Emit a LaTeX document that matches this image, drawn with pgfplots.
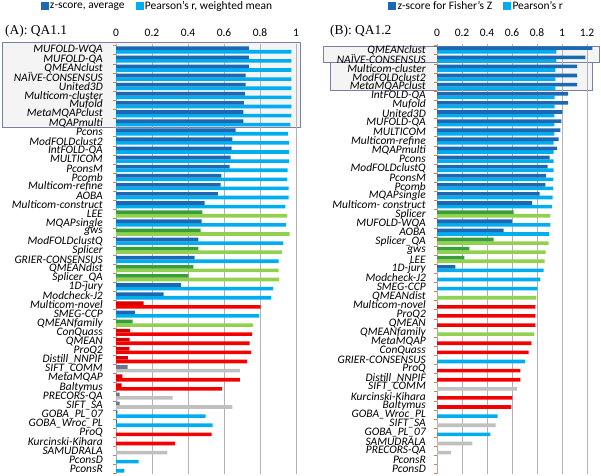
\documentclass[border=0pt]{standalone}
\usepackage{fontspec}
\setmainfont{Carlito}
\newfontfamily\seriffont{Liberation Serif}
\usepackage{pgfplots}
\usepackage{pgfplotstable}
\pgfplotsset{compat=1.18}
\definecolor{dkblue}{RGB}{28,104,178}
\definecolor{ltblue}{RGB}{0,174,239}
\definecolor{dkgreen}{RGB}{56,158,56}
\definecolor{ltgreen}{RGB}{146,208,80}
\definecolor{dkred}{RGB}{215,0,0}
\definecolor{ltred}{RGB}{245,0,0}
\definecolor{dkgray}{RGB}{110,118,140}
\definecolor{ltgray}{RGB}{192,192,192}
\definecolor{tickcol}{RGB}{200,130,90}
\definecolor{boxedge}{RGB}{120,130,160}

\pgfplotstableread{
i z r g
0 0.738 0.974 1
1 0.738 0.974 1
2 0.738 0.974 1
3 0.720 0.974 1
4 0.720 0.974 1
5 0.716 0.974 1
6 0.710 0.974 1
7 0.707 0.974 1
8 0.707 0.969 1
9 0.664 0.956 1
10 0.646 0.961 1
11 0.642 0.961 1
12 0.637 0.961 1
13 0.631 0.954 1
14 0.585 0.950 1
15 0.581 0.959 1
16 0.566 0.959 1
17 0.493 0.941 1
18 0.480 0.950 2
19 0.476 0.945 1
20 0.470 0.965 2
21 0.458 0.928 1
22 0.458 0.923 2
23 0.437 0.904 1
24 0.430 0.904 2
25 0.402 0.906 2
26 0.360 0.873 1
27 0.264 0.862 1
28 0.153 0.803 3
29 0.105 0.795 1
30 0.092 0.760 2
31 0.079 0.756 3
32 0.076 0.742 3
33 0.074 0.749 3
34 0.066 0.729 3
35 0.065 0.688 4
36 0.035 0.688 3
37 0.031 0.590 3
38 0.020 0.314 4
39 0.020 0.646 4
40 0.007 0.498 1
41 0.005 0.537 1
42 0.000 0.531 3
43 0.000 0.327 3
44 0.000 0.286 4
45 0.000 0.125 1
46 0.000 0.046 1
}\dataA

\pgfplotstableread{
i z r g
0 1.243 0.955 1
1 1.187 0.955 1
2 1.120 0.947 1
3 1.120 0.947 1
4 1.120 0.947 1
5 1.048 0.941 1
6 1.048 0.941 1
7 1.003 0.939 1
8 0.995 0.939 1
9 0.987 0.939 1
10 0.973 0.933 1
11 0.960 0.933 1
12 0.901 0.933 1
13 0.885 0.933 1
14 0.872 0.928 1
15 0.867 0.928 1
16 0.821 0.925 1
17 0.760 0.920 1
18 0.613 0.907 2
19 0.600 0.907 1
20 0.533 0.896 1
21 0.453 0.893 2
22 0.259 0.869 2
23 0.219 0.861 2
24 0.147 0.853 1
25 0.000 0.827 1
26 0.000 0.803 1
27 0.000 0.795 2
28 0.000 0.787 3
29 0.000 0.787 3
30 0.000 0.787 3
31 0.000 0.779 2
32 0.000 0.755 3
33 0.000 0.733 3
34 0.000 0.704 1
35 0.000 0.667 3
36 0.000 0.667 3
37 0.000 0.640 4
38 0.000 0.603 3
39 0.000 0.592 3
40 0.000 0.485 1
41 0.000 0.469 4
42 0.000 0.427 1
43 0.000 0.283 4
44 0.000 0.112 4
45 0.000 0.000 1
46 0.000 0.000 1
}\dataB

\pgfplotsset{
  qa/.style={
    xbar, scale only axis, height=430bp,
    y dir=reverse, ymin=-0.66, ymax=46.55, xmin=0,
    axis y line*=left, axis x line*=top,
    x axis line style={draw=none}, y axis line style={draw=gray!60},
    xmajorgrids, grid style={gray!60, line width=0.7pt},
    major tick length=0pt, minor tick length=3bp, tick align=outside,
    ytick={0,...,46}, minor ytick={-0.5,0.5,...,46.5},
    minor y tick style={draw=tickcol},
    yticklabel style={font=\fontsize{11.5}{11.5}\selectfont\itshape, inner sep=0pt},
    xticklabel style={font=\fontsize{11.5}{12}\selectfont, inner sep=0pt},
    xticklabel shift=7bp,
    /pgf/number format/assume math mode=true,
    bar width=3.6bp,
    legend columns=2,
    legend style={draw=none, fill=none, font=\fontsize{11.5}{12}\selectfont,
      /tikz/every even column/.append style={column sep=9bp}, inner sep=0pt},
    legend image code/.code={\fill[##1] (0bp,-3.5bp) rectangle (7bp,3.5bp);},
  },
  zbar/.style={fill=#1, draw=none, bar shift=1.8bp, forget plot},
  rbar/.style={fill=#1, draw=none, bar shift=-1.8bp, forget plot},
}

\begin{document}
\begin{tikzpicture}[x=1bp,y=1bp]
\useasboundingbox (0,0) rectangle (601,476);
% highlight boxes
\draw[boxedge, fill=gray!9] (2,349) rectangle (300,434);
\draw[boxedge, fill=gray!9] (323,414) rectangle (599,430);
\draw[boxedge, fill=gray!9] (330,386) rectangle (592,414);
\node[anchor=west, font=\seriffont\fontsize{13.5}{14}\selectfont, inner sep=0pt] at (5,445) {(A): QA1.1};
\node[anchor=west, font=\seriffont\fontsize{13.5}{14}\selectfont, inner sep=0pt] at (330,445) {(B): QA1.2};

\begin{axis}[qa, at={(116bp,2bp)}, anchor=south west, width=180bp, xmax=1,
  xtick={0,0.2,...,1.0},
  xticklabels={0,0.2,0.4,0.6,0.8,1},
  yticklabel shift=13bp,
  legend style={at={(-0.42,1.088)}, anchor=west},
  yticklabels={MUFOLD-WQA,MUFOLD-QA,QMEANclust,NAÏVE-CONSENSUS,United3D,Multicom-cluster,Mufold,MetaMQAPclust,MQAPmulti,Pcons,ModFOLDclust2,IntFOLD-QA,MULTICOM,PconsM,Pcomb,Multicom-refine,AOBA,Multicom-construct,LEE,MQAPsingle,gws,ModFOLDclustQ,Splicer,GRIER-CONSENSUS,QMEANdist,Splicer\_QA,1D-jury,Modcheck-J2,Multicom-novel,SMEG-CCP,QMEANfamily,ConQuass,QMEAN,ProQ2,Distill\_NNPIF,SIFT\_COMM,MetaMQAP,Baltymus,PRECORS-QA,SIFT\_SA,GOBA\_PL\_07,GOBA\_Wroc\_PL,ProQ,Kurcinski-Kihara,SAMUDRALA,PconsD,PconsR},
]
\addlegendimage{dkblue}\addlegendentry{z-score, average}
\addlegendimage{ltblue}\addlegendentry{Pearson's r, weighted mean}
\addplot[rbar=ltblue, restrict expr to domain={\thisrow{g}}{1:1}] table[x=r,y=i]{\dataA};
\addplot[rbar=ltgreen, restrict expr to domain={\thisrow{g}}{2:2}] table[x=r,y=i]{\dataA};
\addplot[rbar=ltred, restrict expr to domain={\thisrow{g}}{3:3}] table[x=r,y=i]{\dataA};
\addplot[rbar=ltgray, restrict expr to domain={\thisrow{g}}{4:4}] table[x=r,y=i]{\dataA};
\addplot[zbar=dkblue, restrict expr to domain={\thisrow{g}}{1:1}] table[x=z,y=i]{\dataA};
\addplot[zbar=dkgreen, restrict expr to domain={\thisrow{g}}{2:2}] table[x=z,y=i]{\dataA};
\addplot[zbar=dkred, restrict expr to domain={\thisrow{g}}{3:3}] table[x=z,y=i]{\dataA};
\addplot[zbar=dkgray, restrict expr to domain={\thisrow{g}}{4:4}] table[x=z,y=i]{\dataA};
\end{axis}

\begin{axis}[qa, at={(437bp,2bp)}, anchor=south west, width=157.5bp, xmax=1.26,
  xtick={0,0.2,...,1.2},
  xticklabels={0,0.2,0.4,0.6,0.8,1,1.2},
  yticklabel shift=11bp,
  legend style={at={(-0.311,1.088)}, anchor=west},
  yticklabels={QMEANclust,NAÏVE-CONSENSUS,Multicom-cluster,ModFOLDclust2,MetaMQAPclust,IntFOLD-QA,Mufold,United3D,MUFOLD-QA,MULTICOM,Multicom-refine,MQAPmulti,Pcons,ModFOLDclustQ,PconsM,Pcomb,MQAPsingle,Multicom- construct,Splicer,MUFOLD-WQA,AOBA,Splicer\_QA,gws,LEE,1D-jury,Modcheck-J2,SMEG-CCP,QMEANdist,Multicom-novel,ProQ2,QMEAN,QMEANfamily,MetaMQAP,ConQuass,GRIER-CONSENSUS,ProQ,Distill\_NNPIF,SIFT\_COMM,Kurcinski-Kihara,Baltymus,GOBA\_Wroc\_PL,SIFT\_SA,GOBA\_PL\_07,SAMUDRALA,PRECORS-QA,PconsR,PconsD},
]
\addlegendimage{dkblue}\addlegendentry{z-score for Fisher's Z}
\addlegendimage{ltblue}\addlegendentry{Pearson's r}
\addplot[rbar=ltblue, restrict expr to domain={\thisrow{g}}{1:1}] table[x=r,y=i]{\dataB};
\addplot[rbar=ltgreen, restrict expr to domain={\thisrow{g}}{2:2}] table[x=r,y=i]{\dataB};
\addplot[rbar=ltred, restrict expr to domain={\thisrow{g}}{3:3}] table[x=r,y=i]{\dataB};
\addplot[rbar=ltgray, restrict expr to domain={\thisrow{g}}{4:4}] table[x=r,y=i]{\dataB};
\addplot[zbar=dkblue, restrict expr to domain={\thisrow{g}}{1:1}] table[x=z,y=i]{\dataB};
\addplot[zbar=dkgreen, restrict expr to domain={\thisrow{g}}{2:2}] table[x=z,y=i]{\dataB};
\addplot[zbar=dkred, restrict expr to domain={\thisrow{g}}{3:3}] table[x=z,y=i]{\dataB};
\addplot[zbar=dkgray, restrict expr to domain={\thisrow{g}}{4:4}] table[x=z,y=i]{\dataB};
\end{axis}
\end{tikzpicture}
\end{document}
